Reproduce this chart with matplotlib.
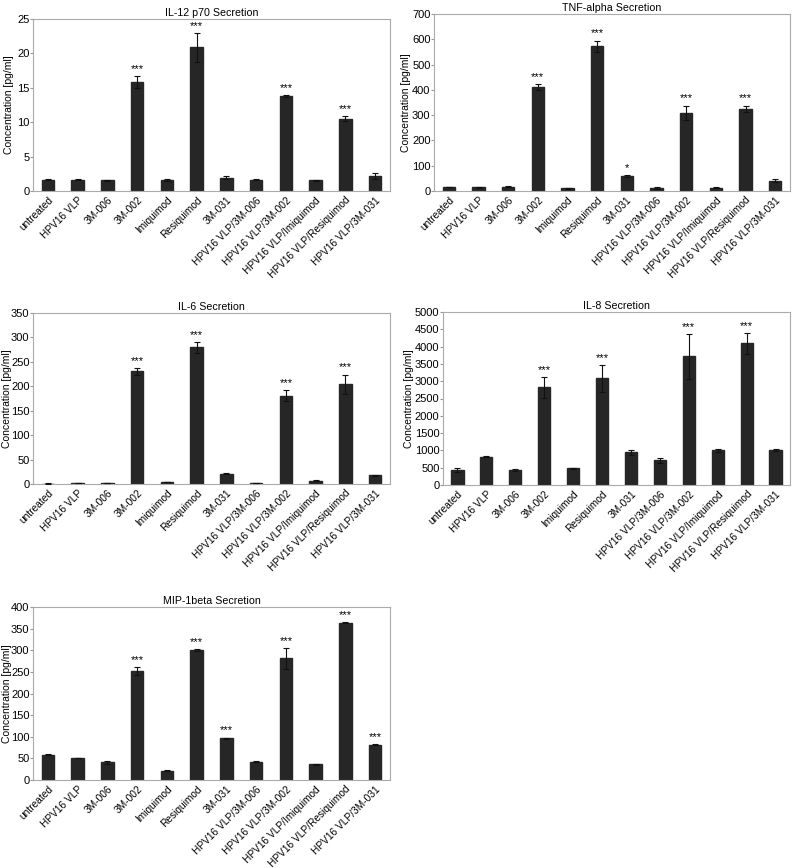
import matplotlib
matplotlib.use("Agg")
import matplotlib.pyplot as plt
import numpy as np

plt.rcParams['font.family'] = ['Liberation Sans', 'DejaVu Sans']

categories = ["untreated", "HPV16 VLP", "3M-006", "3M-002", "Imiquimod", "Resiquimod",
              "3M-031", "HPV16 VLP/3M-006", "HPV16 VLP/3M-002", "HPV16 VLP/Imiquimod",
              "HPV16 VLP/Resiquimod", "HPV16 VLP/3M-031"]

il12_vals = [1.65, 1.65, 1.55, 15.8, 1.6, 20.9, 1.95, 1.65, 13.8, 1.55, 10.5, 2.2]
il12_err = [0.05, 0.05, 0.08, 0.9, 0.08, 2.1, 0.25, 0.05, 0.1, 0.08, 0.35, 0.4]
il12_sig = ["", "", "", "***", "", "***", "", "", "***", "", "***", ""]

tnf_vals = [15, 14, 17, 410, 11, 573, 60, 12, 310, 12, 325, 40]
tnf_err = [1, 1, 1, 12, 2, 22, 4, 3, 28, 2, 13, 6]
tnf_sig = ["", "", "", "***", "", "***", "*", "", "***", "", "***", ""]

il6_vals = [1, 2, 2, 231, 4, 280, 21, 2, 181, 7, 204, 18]
il6_err = [0.3, 0.3, 0.3, 7, 0.5, 11, 0.8, 0.3, 12, 0.5, 20, 1]
il6_sig = ["", "", "", "***", "", "***", "", "", "***", "", "***", ""]

il8_vals = [430, 820, 440, 2820, 480, 3080, 950, 710, 3720, 1000, 4100, 1020]
il8_err = [60, 20, 30, 300, 15, 380, 70, 80, 650, 50, 300, 30]
il8_sig = ["", "", "", "***", "", "***", "", "", "***", "", "***", ""]

mip_vals = [58, 51, 41, 252, 21, 301, 96, 42, 281, 36, 364, 82]
mip_err = [1, 1, 4, 10, 1, 2, 2, 1, 24, 2, 1, 2]
mip_sig = ["", "", "", "***", "", "***", "***", "", "***", "", "***", "***"]

panels = [
    ("IL-12 p70 Secretion", il12_vals, il12_err, il12_sig, 25, 5),
    ("TNF-alpha Secretion", tnf_vals, tnf_err, tnf_sig, 700, 100),
    ("IL-6 Secretion", il6_vals, il6_err, il6_sig, 350, 50),
    ("IL-8 Secretion", il8_vals, il8_err, il8_sig, 5000, 500),
    ("MIP-1beta Secretion", mip_vals, mip_err, mip_sig, 400, 50),
]

W, H = 800, 868
fig = plt.figure(figsize=(W / 100, H / 100), dpi=100)

# (left, top, right, bottom, ylabel-anchor-x) in pixels
boxes = [
    (33, 19, 390, 191, 14),
    (434, 14, 790, 191, 411),
    (33, 313, 390, 484, 12),
    (443, 312, 790, 485, 414),
    (33, 607, 390, 780, 12),
]

x = np.arange(len(categories))
for (title, vals, errs, sig, ymax, step), (l, t, r, b, lx) in zip(panels, boxes):
    ax = fig.add_axes([l / W, 1 - b / H, (r - l) / W, (b - t) / H])
    ax.bar(x, vals, width=0.42, color="#262626", edgecolor="#262626", zorder=2)
    ax.errorbar(x, vals, yerr=errs, fmt="none", ecolor="#111111", elinewidth=0.8,
                capsize=2.5, capthick=0.8, zorder=3)
    for xi, v, e, s in zip(x, vals, errs, sig):
        if s:
            ax.text(xi, v + e + ymax * 0.012, s, ha="center", va="bottom", fontsize=8)
    ax.set_xlim(-0.5, len(categories) - 0.5)
    ax.set_ylim(0, ymax)
    ax.set_yticks(np.arange(0, ymax + step / 2, step))
    ax.set_xticks(x)
    ax.set_xticklabels(categories, rotation=45, ha="right", rotation_mode="anchor", fontsize=7.3)
    ax.tick_params(axis="x", length=0, pad=3)
    ax.tick_params(axis="y", length=2, labelsize=8, pad=0.5, color="#999999")
    for sp in ax.spines.values():
        sp.set_color("#aaaaaa")
        sp.set_linewidth(0.8)
    ax.set_title(title, fontsize=7.7, pad=2)
    ax.set_ylabel("Concentration [pg/ml]", fontsize=7.5)
    ax.yaxis.set_label_coords((lx - l) / (r - l), 0.5)

fig.savefig("out.png", dpi=100)
